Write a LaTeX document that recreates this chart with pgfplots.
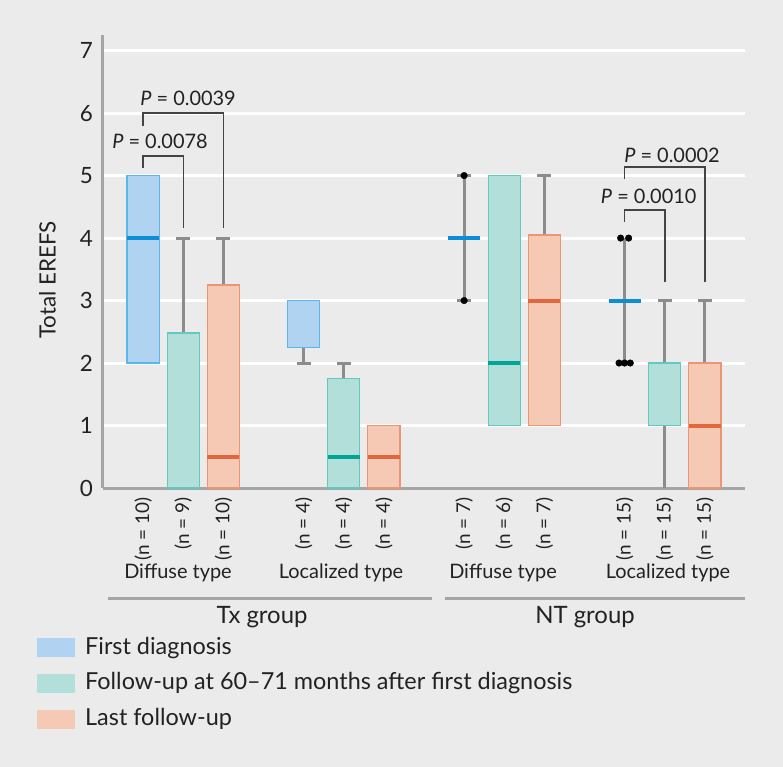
\documentclass[border=0pt]{standalone}
\usepackage{fontspec}
\setmainfont{Lato}
\usepackage{pgfplots}
\pgfplotsset{compat=1.18}
\definecolor{bg}{HTML}{EBEBEB}
\definecolor{axisgrey}{HTML}{A5A5A5}
\definecolor{whisk}{HTML}{8C8C8C}
\definecolor{brack}{HTML}{444444}
\definecolor{txt}{HTML}{222222}
\definecolor{bluefill}{HTML}{AFD3F1}
\definecolor{blueedge}{HTML}{5DB6EA}
\definecolor{bluemed}{HTML}{0C8DD6}
\definecolor{tealfill}{HTML}{B2DFDA}
\definecolor{tealedge}{HTML}{62C9BF}
\definecolor{tealmed}{HTML}{00A596}
\definecolor{salmfill}{HTML}{F5C9B3}
\definecolor{salmedge}{HTML}{EB9575}
\definecolor{salmmed}{HTML}{E2673F}
\newcommand\fbig{\fontsize{22.5}{26}\selectfont}
\newcommand\fgrp{\fontsize{24}{28}\selectfont}
\newcommand\fleg{\fontsize{23.5}{28}\selectfont}
\newcommand\fmid{\fontsize{20}{24}\selectfont}
\newcommand\fsm{\fontsize{19}{22}\selectfont}
\begin{document}
\begin{tikzpicture}[x=1bp,y=1bp]
\fill[bg] (-103,-279) rectangle (680,488);
\begin{axis}[
  at={(0,0)}, anchor=south west,
  scale only axis, width=642bp, height=453bp,
  xmin=-1, xmax=15, ymin=0, ymax=7.25,
  axis x line=bottom, axis y line=left,
  axis line style={draw=axisgrey, line width=3bp, -},
  ytick={0,1,...,7},
  xtick={0,1,2,4,5,6,8,9,10,12,13,14},
  xticklabels={(n = 10),(n = 9),(n = 10),(n = 4),(n = 4),(n = 4),(n = 7),(n = 6),(n = 7),(n = 15),(n = 15),(n = 15)},
  major tick length=0pt,
  ymajorgrids, major grid style={draw=white, line width=3bp},
  /pgf/number format/assume math mode=true,
  yticklabel style={font=\fbig, text=txt, inner sep=0pt, xshift=-10bp},
  xticklabel style={font=\fsm, text=txt, yshift=-9bp, rotate=90, anchor=east, inner sep=0pt},
  clip=false,
  ylabel={Total EREFS},
  ylabel style={font=\fbig, text=txt, at={(axis description cs:-0.0864,0.459)}, anchor=center},
  every axis plot/.append style={line join=miter},
]
% ---- whiskers ----
\pgfplotsset{whiskstyle/.style={draw=whisk, line width=3bp}}
\addplot[whiskstyle] coordinates {(1,2.48) (1,4)};
\addplot[whiskstyle] coordinates {(0.825,4) (1.175,4)};
\addplot[whiskstyle] coordinates {(2,3.25) (2,4)};
\addplot[whiskstyle] coordinates {(1.825,4) (2.175,4)};
\addplot[whiskstyle] coordinates {(4,2) (4,2.25)};
\addplot[whiskstyle] coordinates {(3.825,2) (4.175,2)};
\addplot[whiskstyle] coordinates {(5,1.75) (5,2)};
\addplot[whiskstyle] coordinates {(4.825,2) (5.175,2)};
\addplot[whiskstyle] coordinates {(8,3) (8,5)};
\addplot[whiskstyle] coordinates {(7.825,5) (8.175,5)};
\addplot[whiskstyle] coordinates {(7.825,3) (8.175,3)};
\addplot[whiskstyle] coordinates {(10,4.05) (10,5)};
\addplot[whiskstyle] coordinates {(9.825,5) (10.175,5)};
\addplot[whiskstyle] coordinates {(12,2) (12,4)};
\addplot[whiskstyle] coordinates {(13,0) (13,3)};
\addplot[whiskstyle] coordinates {(12.825,3) (13.175,3)};
\addplot[whiskstyle] coordinates {(14,2) (14,3)};
\addplot[whiskstyle] coordinates {(13.825,3) (14.175,3)};
% ---- boxes ----
\pgfplotsset{
  bluebox/.style={fill=bluefill, draw=blueedge, line width=1.2bp},
  tealbox/.style={fill=tealfill, draw=tealedge, line width=1.2bp},
  salmbox/.style={fill=salmfill, draw=salmedge, line width=1.2bp},
}
\addplot[bluebox] coordinates {(-0.4,2) (0.4,2) (0.4,5) (-0.4,5)} --cycle;
\addplot[tealbox] coordinates {(0.6,0) (1.4,0) (1.4,2.48) (0.6,2.48)} --cycle;
\addplot[salmbox] coordinates {(1.6,0) (2.4,0) (2.4,3.25) (1.6,3.25)} --cycle;
\addplot[bluebox] coordinates {(3.6,2.25) (4.4,2.25) (4.4,3) (3.6,3)} --cycle;
\addplot[tealbox] coordinates {(4.6,0) (5.4,0) (5.4,1.75) (4.6,1.75)} --cycle;
\addplot[salmbox] coordinates {(5.6,0) (6.4,0) (6.4,1) (5.6,1)} --cycle;
\addplot[tealbox] coordinates {(8.6,1) (9.4,1) (9.4,5) (8.6,5)} --cycle;
\addplot[salmbox] coordinates {(9.6,1) (10.4,1) (10.4,4.05) (9.6,4.05)} --cycle;
\addplot[tealbox] coordinates {(12.6,1) (13.4,1) (13.4,2) (12.6,2)} --cycle;
\addplot[salmbox] coordinates {(13.6,0) (14.4,0) (14.4,2) (13.6,2)} --cycle;
% ---- medians ----
\addplot[draw=bluemed, line width=4bp] coordinates {(-0.4,4) (0.4,4)};
\addplot[draw=salmmed, line width=4bp] coordinates {(1.6,0.5) (2.4,0.5)};
\addplot[draw=tealmed, line width=4bp] coordinates {(4.6,0.5) (5.4,0.5)};
\addplot[draw=salmmed, line width=4bp] coordinates {(5.6,0.5) (6.4,0.5)};
\addplot[draw=bluemed, line width=4bp] coordinates {(7.6,4) (8.4,4)};
\addplot[draw=tealmed, line width=4bp] coordinates {(8.6,2) (9.4,2)};
\addplot[draw=salmmed, line width=4bp] coordinates {(9.6,3) (10.4,3)};
\addplot[draw=bluemed, line width=4bp] coordinates {(11.6,3) (12.4,3)};
\addplot[draw=salmmed, line width=4bp] coordinates {(13.6,1) (14.4,1)};
% ---- outliers ----
\addplot[only marks, mark=*, mark size=3.3bp, black] coordinates {(8,5) (8,3) (11.9,4) (12.1,4) (11.86,2) (12,2) (12.14,2)};
% ---- significance brackets ----
\pgfplotsset{brk/.style={draw=brack, line width=1.5bp}}
\addplot[brk] coordinates {(0,5.12) (0,5.31) (1,5.31) (1,4.16)};
\addplot[brk] coordinates {(0,5.8) (0,6.0) (2,6.0) (2,4.16)};
\addplot[brk] coordinates {(12,4.26) (12,4.45) (13,4.45) (13,3.3)};
\addplot[brk] coordinates {(12,4.94) (12,5.14) (14,5.14) (14,3.3)};
\node[font=\fmid, text=txt] at (axis cs:0.42,5.54) {\textit{P} = 0.0078};
\node[font=\fmid, text=txt] at (axis cs:1.12,6.24) {\textit{P} = 0.0039};
\node[font=\fmid, text=txt] at (axis cs:12.6,4.66) {\textit{P} = 0.0010};
\node[font=\fmid, text=txt] at (axis cs:13.18,5.33) {\textit{P} = 0.0002};
\end{axis}
% ---- group labels ----
\node[font=\fmid, text=txt] at (75,-85) {Diffuse type};
\node[font=\fmid, text=txt] at (238,-85) {Localized type};
\node[font=\fmid, text=txt] at (400,-85) {Diffuse type};
\node[font=\fmid, text=txt] at (565,-85) {Localized type};
\draw[axisgrey, line width=3bp] (5,-110) -- (329,-110);
\draw[axisgrey, line width=3bp] (342,-110) -- (642,-110);
\node[font=\fgrp, text=txt] at (159,-129) {Tx group};
\node[font=\fgrp, text=txt] at (482,-129) {NT group};
% ---- legend ----
\fill[bluefill] (-66,-169.2) rectangle (-28,-150.2);
\fill[tealfill] (-66,-204.5) rectangle (-28,-185.5);
\fill[salmfill] (-66,-240.5) rectangle (-28,-221.5);
\node[font=\fleg, text=txt, anchor=west, inner sep=0pt] at (-18,-159.7) {First diagnosis};
\node[font=\fleg, text=txt, anchor=west, inner sep=0pt] at (-18,-195) {Follow-up at 60–71 months after first diagnosis};
\node[font=\fleg, text=txt, anchor=west, inner sep=0pt] at (-18,-231) {Last follow-up};
\end{tikzpicture}
\end{document}
